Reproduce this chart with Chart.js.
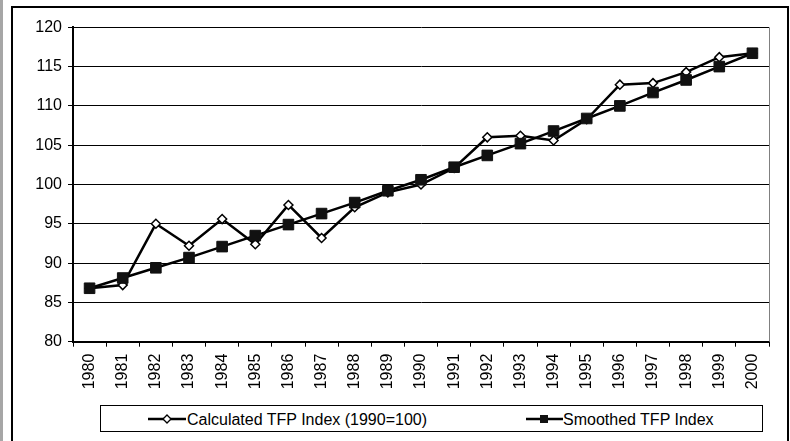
<!DOCTYPE html>
<html>
<head>
<meta charset="utf-8">
<title>TFP Index</title>
<script src="https://cdn.jsdelivr.net/npm/chart.js@4.4.1/dist/chart.umd.min.js"></script>
<style>
    html, body { margin: 0; padding: 0; background: #fff; }
    body { width: 790px; height: 441px; position: relative; overflow: hidden; font-family: "Liberation Sans", Arial, sans-serif; }
    #edge { position: absolute; left: 0; top: 0; width: 3px; height: 441px; background: #a6a6a6; }
    #frame { position: absolute; left: 11px; top: 6px; width: 774px; height: 440px; border: 2px solid #000; }
    #chartBox { position: absolute; left: 13px; top: 8px; width: 774px; height: 392px; }
    #legend { position: absolute; left: 100px; top: 405px; width: 661px; height: 25px; border: 1px solid #000; }
    #legend svg { position: absolute; top: 7px; }
    #legend span { position: absolute; top: 4.5px; font-size: 16px; line-height: 18px; color: #000; white-space: nowrap; }
</style>
</head>
<body>
<div id="edge"></div>
<div id="frame"></div>
<div id="chartBox"><canvas id="tfpChart"></canvas></div>
<div id="legend">
    <svg style="left:47px" width="38" height="12">
        <line x1="0" y1="6" x2="38" y2="6" stroke="#000" stroke-width="2.5"/>
        <polygon points="19,2 23,6 19,10 15,6" fill="#fff" stroke="#000" stroke-width="1.3"/>
    </svg>
    <span style="left:86px">Calculated TFP Index (1990=100)</span>
    <svg style="left:425px" width="37" height="12">
        <line x1="0" y1="6" x2="37" y2="6" stroke="#000" stroke-width="2.5"/>
        <rect x="14" y="2" width="8" height="8" fill="#111"/>
    </svg>
    <span style="left:462px">Smoothed TFP Index</span>
</div>
<script>
// data
const years = ['1980', '1981', '1982', '1983', '1984', '1985', '1986', '1987', '1988', '1989', '1990',
    '1991', '1992', '1993', '1994', '1995', '1996', '1997', '1998', '1999', '2000'];
const calculatedTfp = [86.8, 87.2, 95.0, 92.2, 95.6, 92.4, 97.4, 93.2, 97.1, 99.0, 100.0,
    102.1, 106.0, 106.2, 105.6, 108.3, 112.7, 112.9, 114.3, 116.2, 116.7];
const smoothedTfp = [86.8, 88.1, 89.4, 90.7, 92.1, 93.5, 94.9, 96.3, 97.7, 99.2, 100.6,
    102.2, 103.7, 105.2, 106.8, 108.4, 110.0, 111.7, 113.3, 115.0, 116.7];
const yMin = 80;
const yMax = 120;
const yStep = 5;

// thin grey frame on the right side of the plot area
const plotFrame = {
    id: 'plotFrame',
    beforeDatasetsDraw(chart) {
        const { ctx, chartArea } = chart;
        const x = Math.round(chartArea.right) + 0.5;
        ctx.save();
        ctx.strokeStyle = '#808080';
        ctx.lineWidth = 1;
        ctx.beginPath();
        ctx.moveTo(x, chartArea.top);
        ctx.lineTo(x, chartArea.bottom);
        ctx.stroke();
        ctx.restore();
    }
};

Chart.defaults.font.family = '"Liberation Sans", Arial, sans-serif';
Chart.defaults.font.size = 16;
Chart.defaults.color = '#000000';

const ctx = document.getElementById('tfpChart').getContext('2d');

new Chart(ctx, {
    type: 'line',
    data: {
        labels: years,
        datasets: [
            {
                label: 'Calculated TFP Index (1990=100)',
                data: calculatedTfp,
                borderColor: '#000000',
                borderWidth: 2.5,
                tension: 0,
                pointStyle: 'rectRot',
                pointRadius: 4.5,
                pointBackgroundColor: '#ffffff',
                pointBorderColor: '#000000',
                pointBorderWidth: 1.5,
                order: 1,
            },
            {
                label: 'Smoothed TFP Index',
                data: smoothedTfp,
                borderColor: '#000000',
                borderWidth: 2.5,
                tension: 0,
                pointStyle: 'rect',
                pointRadius: 7.5,
                pointBackgroundColor: '#111111',
                pointBorderColor: '#111111',
                pointBorderWidth: 1,
                order: 0,
            }
        ]
    },
    options: {
        responsive: true,
        maintainAspectRatio: false,
        devicePixelRatio: 1,
        animation: false,
        layout: {
            padding: { top: 19.3, right: 18, bottom: 0, left: 0 }
        },
        scales: {
            x: {
                type: 'category',
                offset: true,
                afterFit: (scale) => { scale.height = 58.3; },
                border: { display: true, color: '#000000', width: 2 },
                grid: {
                    offset: true,
                    drawOnChartArea: false,
                    drawTicks: true,
                    tickLength: 5,
                    color: '#000000',
                },
                ticks: {
                    autoSkip: false,
                    minRotation: 90,
                    maxRotation: 90,
                    padding: 7,
                },
            },
            y: {
                min: yMin,
                max: yMax,
                afterFit: (scale) => { scale.width = 60; },
                border: { display: true, color: '#000000', width: 2 },
                grid: {
                    color: '#000000',
                    lineWidth: 1,
                    drawTicks: true,
                    tickLength: 5,
                },
                ticks: {
                    stepSize: yStep,
                    padding: 6,
                },
            },
        },
        plugins: {
            legend: { display: false },
            tooltip: { enabled: false },
        }
    },
    plugins: [plotFrame]
});
</script>
</body>
</html>
